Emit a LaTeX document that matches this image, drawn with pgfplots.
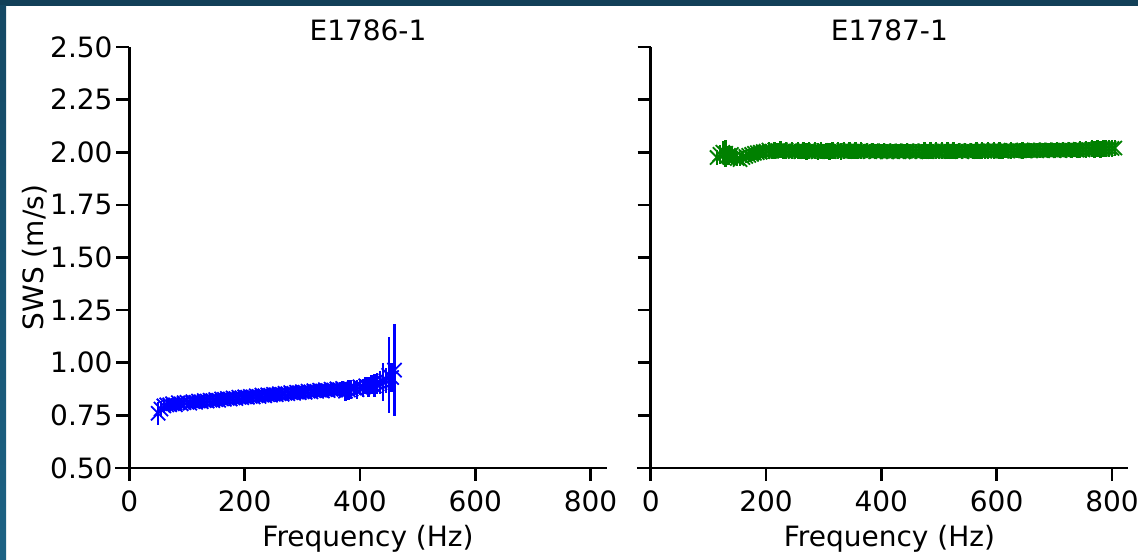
\documentclass[border=0pt]{standalone}
\usepackage{fontspec}
\setmainfont{DejaVu Sans}
\usepackage{pgfplots}
\usepackage{pgfplotstable}
\pgfplotsset{compat=1.18}
\definecolor{frameA}{RGB}{18,64,88}
\definecolor{frameB}{RGB}{20,72,100}
\definecolor{frameC}{RGB}{28,98,132}

\pgfplotstableread{
x y e
50 0.760 0.055
55 0.780 0.040
60 0.795 0.035
65 0.800 0.030
70 0.800 0.028
75 0.805 0.028
80 0.800 0.028
85 0.810 0.028
90 0.805 0.028
95 0.810 0.028
100 0.812 0.028
105 0.808 0.028
110 0.815 0.028
115 0.812 0.028
120 0.818 0.028
125 0.815 0.028
130 0.820 0.028
135 0.818 0.028
140 0.822 0.028
145 0.820 0.028
150 0.825 0.028
155 0.822 0.028
160 0.828 0.028
165 0.826 0.028
170 0.830 0.028
175 0.828 0.028
180 0.833 0.028
185 0.830 0.028
190 0.836 0.028
195 0.834 0.028
200 0.838 0.028
205 0.836 0.028
210 0.840 0.028
215 0.838 0.028
220 0.843 0.028
225 0.840 0.028
230 0.846 0.028
235 0.843 0.028
240 0.848 0.028
245 0.846 0.028
250 0.850 0.028
255 0.848 0.028
260 0.853 0.028
265 0.850 0.028
270 0.855 0.028
275 0.853 0.028
280 0.858 0.028
285 0.855 0.028
290 0.860 0.028
295 0.858 0.028
300 0.862 0.028
305 0.860 0.028
310 0.865 0.028
315 0.862 0.028
320 0.867 0.028
325 0.864 0.028
330 0.870 0.028
335 0.866 0.028
340 0.872 0.028
345 0.868 0.028
350 0.874 0.030
355 0.870 0.030
360 0.876 0.030
365 0.872 0.035
370 0.878 0.035
375 0.865 0.045
380 0.870 0.048
385 0.875 0.045
390 0.880 0.040
395 0.872 0.045
400 0.885 0.040
405 0.880 0.045
410 0.890 0.040
415 0.885 0.048
420 0.895 0.045
425 0.890 0.055
430 0.900 0.050
435 0.905 0.055
440 0.910 0.090
445 0.915 0.060
450 0.940 0.180
455 0.930 0.070
460 0.965 0.220
}\leftdata

\pgfplotstableread{
x y e
115 1.975 0.035
120 1.990 0.045
125 2.000 0.055
130 1.995 0.065
135 1.985 0.045
140 1.990 0.040
145 1.975 0.035
150 1.970 0.035
155 1.965 0.030
160 1.975 0.030
165 1.980 0.030
170 1.985 0.030
175 1.990 0.030
180 1.995 0.030
185 1.998 0.035
190 2.000 0.035
195 2.003 0.035
200 2.005 0.035
205 2.010 0.040
210 2.005 0.035
215 2.010 0.040
220 2.008 0.035
225 2.012 0.040
230 2.005 0.035
235 2.010 0.040
240 2.006 0.035
245 2.010 0.040
250 2.004 0.035
255 2.008 0.040
260 2.003 0.035
265 2.008 0.040
270 2.004 0.040
275 2.009 0.040
280 2.002 0.035
285 2.007 0.040
290 2.003 0.040
295 2.008 0.040
300 2.002 0.035
305 2.006 0.040
310 2.003 0.040
315 2.008 0.040
320 2.004 0.035
325 2.009 0.040
330 2.005 0.040
335 2.010 0.040
340 2.006 0.035
345 2.010 0.040
350 2.005 0.035
355 2.009 0.040
360 2.004 0.035
365 2.008 0.040
370 2.004 0.035
375 2.007 0.035
380 2.003 0.035
385 2.007 0.035
390 2.002 0.035
395 2.006 0.035
400 2.003 0.035
405 2.007 0.035
410 2.002 0.035
415 2.006 0.035
420 2.003 0.035
425 2.006 0.035
430 2.002 0.035
435 2.006 0.035
440 2.003 0.035
445 2.007 0.035
450 2.003 0.035
455 2.006 0.035
460 2.002 0.035
465 2.006 0.035
470 2.003 0.035
475 2.007 0.040
480 2.003 0.035
485 2.008 0.040
490 2.004 0.035
495 2.008 0.040
500 2.004 0.035
505 2.009 0.040
510 2.005 0.035
515 2.008 0.040
520 2.004 0.035
525 2.008 0.040
530 2.004 0.035
535 2.007 0.035
540 2.003 0.035
545 2.007 0.035
550 2.004 0.035
555 2.008 0.035
560 2.004 0.035
565 2.008 0.040
570 2.005 0.035
575 2.009 0.040
580 2.005 0.035
585 2.009 0.040
590 2.006 0.035
595 2.010 0.040
600 2.006 0.035
605 2.009 0.040
610 2.005 0.035
615 2.009 0.035
620 2.006 0.035
625 2.010 0.040
630 2.006 0.035
635 2.010 0.035
640 2.007 0.035
645 2.010 0.040
650 2.006 0.035
655 2.010 0.035
660 2.007 0.035
665 2.011 0.035
670 2.007 0.035
675 2.010 0.035
680 2.007 0.035
685 2.011 0.035
690 2.008 0.035
695 2.011 0.035
700 2.008 0.035
705 2.012 0.035
710 2.008 0.035
715 2.012 0.035
720 2.009 0.035
725 2.012 0.035
730 2.009 0.035
735 2.013 0.035
740 2.010 0.035
745 2.014 0.040
750 2.011 0.035
755 2.015 0.040
760 2.012 0.035
765 2.016 0.040
770 2.013 0.040
775 2.017 0.040
780 2.014 0.040
785 2.018 0.040
790 2.016 0.040
795 2.019 0.040
800 2.018 0.040
805 2.020 0.040
}\rightdata

\begin{document}
\fontsize{14pt}{16pt}\selectfont
\begin{tikzpicture}
\useasboundingbox (0,0) rectangle (569pt,280pt);
\fill[white] (0,0) rectangle (569pt,280pt);
\fill[frameA] (0,277pt) rectangle (569pt,280pt);
\shade[top color=frameB, bottom color=frameC] (0,0) rectangle (3pt,277pt);

\pgfplotsset{
  every axis/.append style={
    scale only axis,
    width=238.7pt, height=210.5pt,
    xmin=0, xmax=828, ymin=0.5, ymax=2.5,
    axis lines*=left,
    axis line style={line width=1.3pt, black},
    tick align=outside,
    major tick length=6.5pt,
    every tick/.style={black, line width=1.3pt},
    xtick={0,200,400,600,800},
    ytick={0.5,0.75,...,2.5},
    /pgf/number format/assume math mode=true,
    ticklabel style={font=\fontsize{14pt}{16pt}\selectfont},
    yticklabel style={xshift=3pt},
    label style={font=\fontsize{14pt}{16pt}\selectfont},
    title style={font=\fontsize{14pt}{16pt}\selectfont, yshift=-8pt},
    xlabel={Frequency (Hz)},
    xlabel style={yshift=3pt},
    clip=false,
    anchor=south west,
  },
}

\begin{axis}[
  at={(64.65pt,46pt)},
  title={E1786-1},
  ylabel={SWS (m/s)},
  ylabel style={at={(axis description cs:-0.1975,0.5)}, anchor=center},
  yticklabel style={/pgf/number format/.cd, fixed, fixed zerofill, precision=2},
]
\draw[line width=1.3pt] (axis cs:-24,0.5) -- (axis cs:0,0.5);
\addplot[only marks, mark=x, mark size=5pt, color=blue, mark options={line width=0.9pt},
  error bars/.cd, y dir=both, y explicit, error mark=none,
  error bar style={line width=1.2pt, blue}]
  table[x=x, y=y, y error=e] {\leftdata};
\end{axis}

\begin{axis}[
  at={(325.35pt,46pt)},
  title={E1787-1},
  yticklabels={},
]
\draw[line width=1.3pt] (axis cs:-24,0.5) -- (axis cs:0,0.5);
\addplot[only marks, mark=x, mark size=5pt, color=black!50!green, mark options={line width=0.9pt},
  error bars/.cd, y dir=both, y explicit, error mark=none,
  error bar style={line width=1.2pt, black!50!green}]
  table[x=x, y=y, y error=e] {\rightdata};
\end{axis}
\end{tikzpicture}
\end{document}
